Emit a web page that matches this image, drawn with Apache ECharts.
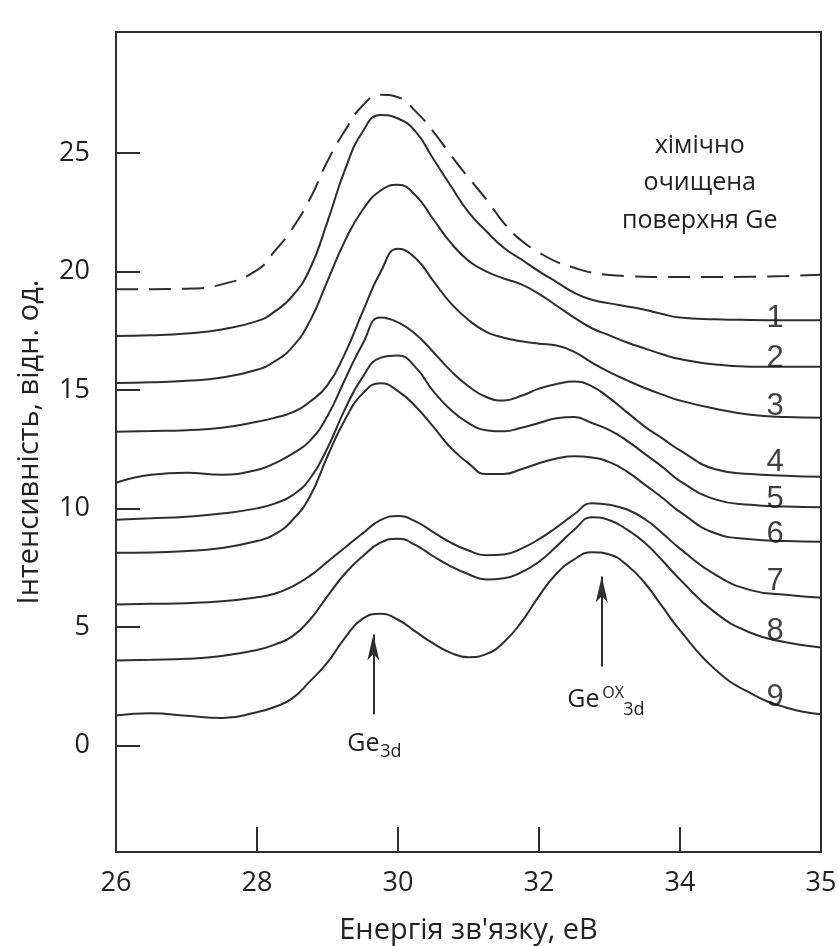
<!DOCTYPE html>
<html>
<head>
<meta charset="utf-8">
<script src="https://cdn.jsdelivr.net/npm/echarts@6/dist/echarts.min.js"></script>
<style>
  html, body { margin: 0; padding: 0; background: #fff; }
  #chart { width: 839px; height: 946px; }
</style>
</head>
<body>
<div id="chart"></div>
<script>
// binding energy, eV (common grid for all spectra)
var energy = [26, 26.5, 27, 27.5, 28, 28.25, 28.5, 28.75, 29, 29.25, 29.5, 29.75, 30, 30.25, 30.5, 30.75, 31,
              31.25, 31.5, 31.75, 32, 32.25, 32.5, 32.75, 33, 33.25, 33.5, 33.75, 34, 34.5, 35, 35.5, 36];

// chemically cleaned Ge surface (dashed)
var cleanGe = [19.25, 19.25, 19.27, 19.45, 20.05, 20.85, 21.8, 23.05, 24.65, 25.95, 27.0, 27.45, 27.35, 26.75, 25.9, 24.9, 23.95,
               23.05, 22.05, 21.3, 20.8, 20.4, 20.15, 19.95, 19.85, 19.8, 19.77, 19.76, 19.76, 19.76, 19.77, 19.8, 19.86];
var curve1 = [17.27, 17.3, 17.38, 17.55, 17.9, 18.3, 18.95, 20.1, 22.1, 24.3, 25.9, 26.6, 26.45, 25.9, 24.75, 23.6, 22.5,
              21.7, 21.0, 20.5, 20.0, 19.55, 19.1, 18.8, 18.65, 18.52, 18.38, 18.2, 18.05, 17.98, 17.95, 17.94, 17.94];
var curve2 = [15.29, 15.32, 15.38, 15.52, 15.85, 16.2, 16.8, 17.9, 19.6, 21.3, 22.6, 23.4, 23.65, 23.2, 22.2, 21.2, 20.45,
              20.0, 19.7, 19.45, 19.05, 18.55, 18.05, 17.6, 17.3, 17.0, 16.75, 16.5, 16.3, 16.07, 15.98, 15.97, 15.97];
var curve3 = [13.23, 13.26, 13.3, 13.4, 13.65, 13.82, 14.05, 14.5, 15.2, 16.55, 18.3, 19.95, 20.95, 20.55, 19.6, 18.65, 17.95,
              17.45, 17.2, 17.05, 16.95, 16.87, 16.6, 16.15, 15.75, 15.4, 15.08, 14.8, 14.55, 14.2, 13.95, 13.85, 13.82];
var curve4 = [11.08, 11.42, 11.5, 11.42, 11.62, 11.9, 12.3, 12.85, 13.9, 15.45, 16.95, 18.05, 17.85, 17.35, 16.6, 15.8, 15.15,
              14.7, 14.55, 14.75, 15.05, 15.25, 15.35, 15.15, 14.65, 14.05, 13.45, 12.95, 12.45, 11.65, 11.45, 11.38, 11.33];
var curve5 = [9.52, 9.58, 9.65, 9.78, 10.0, 10.2, 10.55, 11.25, 12.55, 14.2, 15.55, 16.35, 16.45, 15.95, 14.95, 14.15, 13.6,
              13.3, 13.25, 13.4, 13.6, 13.8, 13.85, 13.6, 13.3, 12.85, 12.3, 11.75, 11.15, 10.38, 10.15, 10.08, 10.05];
var curve6 = [8.13, 8.14, 8.2, 8.33, 8.62, 8.9, 9.5, 10.5, 12.2, 13.75, 14.85, 15.28, 14.95, 14.3, 13.45, 12.55, 11.9,
              11.45, 11.45, 11.65, 11.9, 12.1, 12.2, 12.15, 11.95, 11.55, 11.0, 10.45, 9.85, 8.95, 8.7, 8.62, 8.59];
var curve7 = [5.94, 5.97, 6.0, 6.08, 6.25, 6.4, 6.7, 7.15, 7.75, 8.35, 8.95, 9.5, 9.68, 9.45, 9.0, 8.55, 8.22,
              8.02, 8.05, 8.3, 8.7, 9.2, 9.75, 10.22, 10.15, 9.95, 9.55, 8.95, 8.3, 7.2, 6.55, 6.35, 6.23];
var curve8 = [3.58, 3.61, 3.65, 3.77, 4.02, 4.25, 4.6, 5.3, 6.3, 7.25, 7.98, 8.55, 8.72, 8.45, 7.98, 7.55, 7.22,
              7.0, 7.05, 7.3, 7.75, 8.4, 9.1, 9.62, 9.5, 9.1, 8.55, 7.8, 7.0, 5.6, 4.75, 4.35, 4.13];
var curve9 = [1.26, 1.35, 1.25, 1.15, 1.4, 1.62, 1.98, 2.7, 3.5, 4.55, 5.35, 5.55, 5.3, 4.8, 4.3, 3.9, 3.72,
              3.85, 4.35, 5.2, 6.3, 7.25, 7.85, 8.15, 8.05, 7.6, 6.85, 5.85, 4.85, 3.2, 2.2, 1.6, 1.31];

var curveNames = ['1', '2', '3', '4', '5', '6', '7', '8', '9'];
var curveLabelY = [18.03, 16.34, 14.28, 11.92, 10.36, 8.89, 6.91, 4.8, 2.02];
var curveLabelX = 35.35;

var yTicks = [0, 5, 10, 15, 20, 25];

// arrows: [energy, from, to]
var ge3dArrow = [29.65, 1.31, 4.68];
var geOxArrow = [32.89, 3.33, 7.12];

var ink = '#2e2e2e';
var font = 'Open Sans';

function pairs(vals) {
    return energy.map(function (e, i) { return [e, vals[i]]; });
}

var solidCurves = [curve1, curve2, curve3, curve4, curve5, curve6, curve7, curve8, curve9];

var series = [{
    name: 'clean',
    type: 'line',
    data: pairs(cleanGe),
    smooth: true,
    symbol: 'none',
    lineStyle: { color: ink, width: 2, type: [22, 11] }
}];

solidCurves.forEach(function (c, i) {
    series.push({
        name: curveNames[i],
        type: 'line',
        data: pairs(c),
        smooth: true,
        symbol: 'none',
        lineStyle: { color: ink, width: 2 }
    });
});

series.push({
    name: 'numbers',
    type: 'scatter',
    symbolSize: 0,
    z: 5,
    data: curveNames.map(function (n, i) {
        return { name: n, value: [curveLabelX, curveLabelY[i]] };
    }),
    label: {
        show: true,
        position: 'inside',
        formatter: '{b}',
        color: '#111',
        fontFamily: 'Liberation Sans',
        fontSize: 31
    }
});

series.push({
    name: 'arrows',
    type: 'line',
    data: [],
    markLine: {
        silent: true,
        symbol: ['none', 'arrow'],
        symbolSize: [9, 26],
        label: { show: false },
        lineStyle: { color: ink, width: 2, type: 'solid' },
        data: [
            [{ coord: [ge3dArrow[0], ge3dArrow[1]] }, { coord: [ge3dArrow[0], ge3dArrow[2]] }],
            [{ coord: [geOxArrow[0], geOxArrow[1]] }, { coord: [geOxArrow[0], geOxArrow[2]] }]
        ]
    }
});

var option = {
    animation: false,
    backgroundColor: '#fff',
    grid: {
        left: 116, right: 18, top: 32, bottom: 94,
        outerBoundsMode: 'none',
        show: true, borderColor: ink, borderWidth: 2
    },
    xAxis: {
        type: 'value',
        min: 26, max: 36, interval: 2,
        name: 'Енергія зв\'язку, еВ',
        nameLocation: 'middle',
        nameGap: 64,
        nameTextStyle: { fontFamily: font, fontSize: 29, color: '#222' },
        axisLine: { onZero: false, lineStyle: { color: ink, width: 2 } },
        axisTick: { inside: true, length: 25, lineStyle: { color: ink, width: 2 } },
        axisLabel: {
            margin: 18, fontFamily: font, fontSize: 27, color: '#222',
            formatter: function (v) { return v === 36 ? '35' : String(v); }
        },
        splitLine: { show: false }
    },
    yAxis: {
        type: 'value',
        min: -4.5, max: 30.1,
        name: 'Інтенсивність, відн. од.',
        nameLocation: 'middle',
        nameGap: 72,
        nameTextStyle: { fontFamily: font, fontSize: 29, color: '#222' },
        axisLine: { onZero: false, lineStyle: { color: ink, width: 2 } },
        axisTick: { inside: true, length: 24, customValues: yTicks, lineStyle: { color: ink, width: 2 } },
        axisLabel: { margin: 26, fontFamily: font, fontSize: 27, color: '#222', customValues: yTicks },
        splitLine: { show: false }
    },
    series: series
};

var chart = echarts.init(document.getElementById('chart'));
chart.setOption(option);

function toPx(x, y) { return chart.convertToPixel({ gridIndex: 0 }, [x, y]); }

var notePos = toPx(34.28, 23.72);
var ge3dPos = toPx(29.28, 0.05);
var geOxPos = toPx(32.4, 1.94);

chart.setOption({
    graphic: [
        {
            type: 'text', x: notePos[0], y: notePos[1],
            style: {
                text: 'хімічно\nочищена\nповерхня Ge',
                fontFamily: font, fontSize: 25, lineHeight: 37.5,
                align: 'center', verticalAlign: 'middle', fill: '#222'
            }
        },
        {
            type: 'group', x: ge3dPos[0], y: ge3dPos[1],
            children: [
                { type: 'text', x: 0, y: 0, style: { text: 'Ge', fontFamily: font, fontSize: 25, verticalAlign: 'middle', fill: '#222' } },
                { type: 'text', x: 33, y: 8, style: { text: '3d', fontFamily: font, fontSize: 18, verticalAlign: 'middle', fill: '#222' } }
            ]
        },
        {
            type: 'group', x: geOxPos[0], y: geOxPos[1],
            children: [
                { type: 'text', x: 0, y: 0, style: { text: 'Ge', fontFamily: font, fontSize: 25, verticalAlign: 'middle', fill: '#222' } },
                { type: 'text', x: 35, y: -6, style: { text: 'OX', fontFamily: font, fontSize: 16, verticalAlign: 'middle', fill: '#222' } },
                { type: 'text', x: 56, y: 10, style: { text: '3d', fontFamily: font, fontSize: 18, verticalAlign: 'middle', fill: '#222' } }
            ]
        }
    ]
});
</script>
</body>
</html>
